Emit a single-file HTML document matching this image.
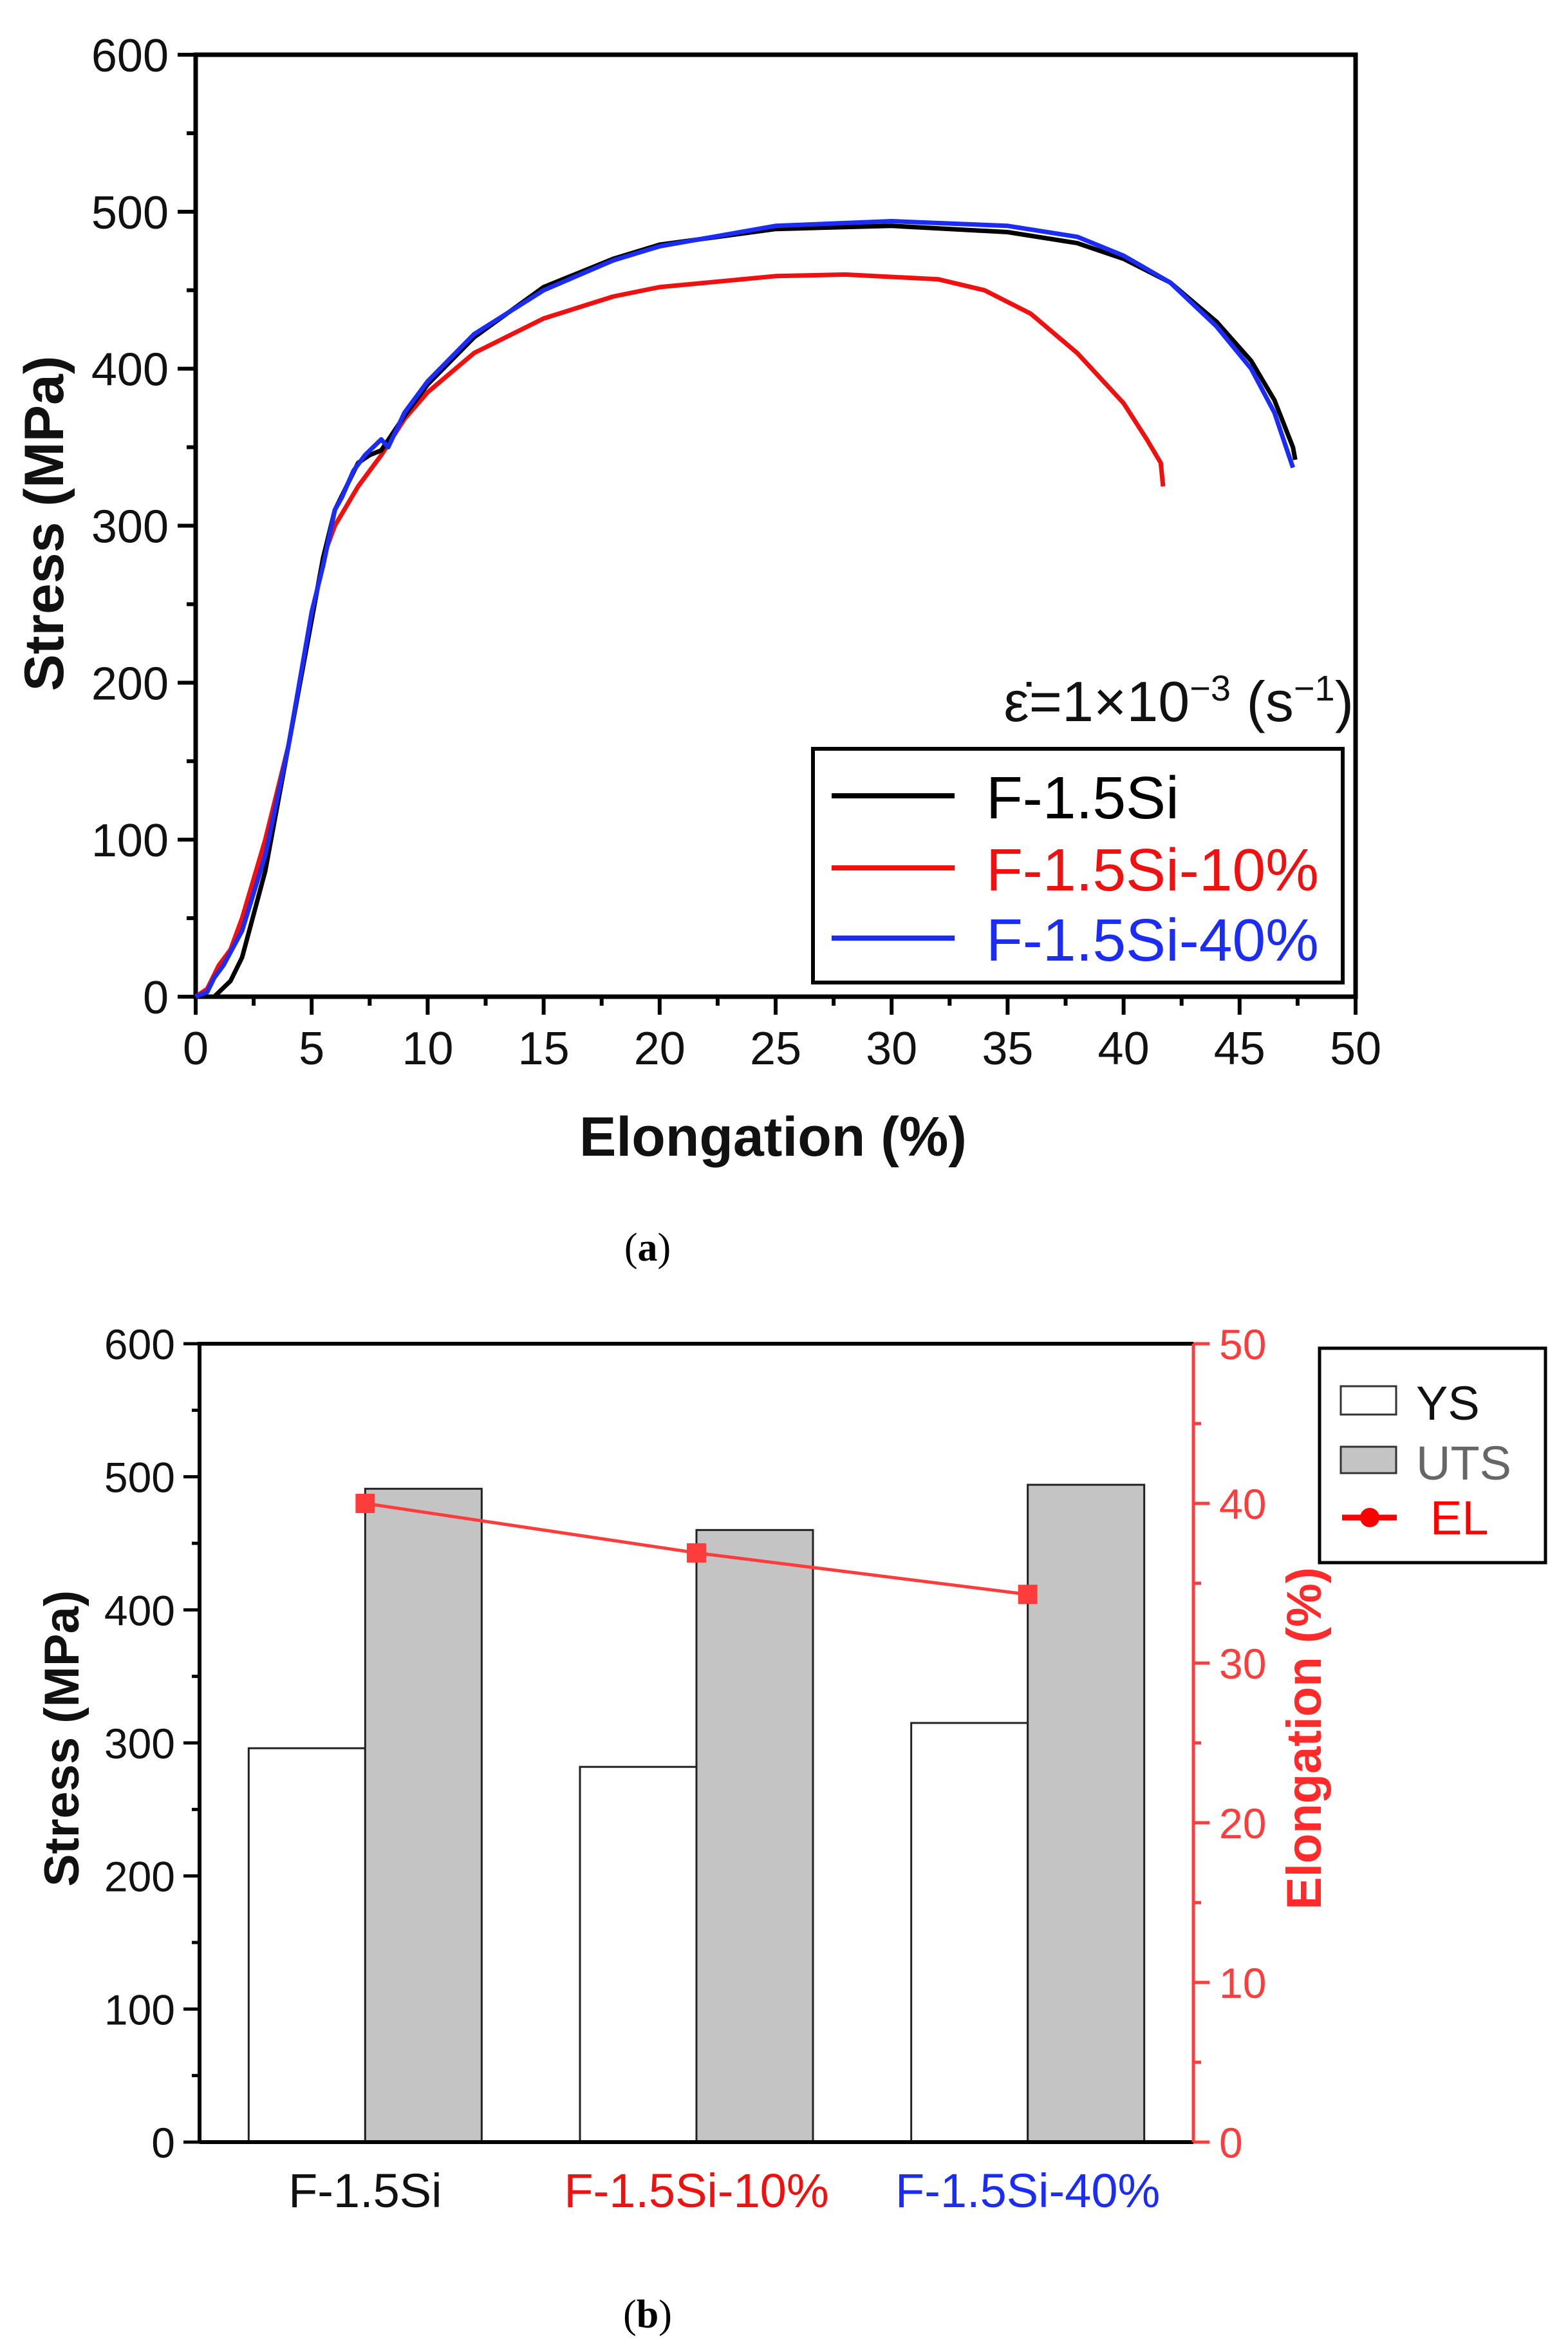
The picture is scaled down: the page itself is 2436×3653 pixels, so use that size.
<!DOCTYPE html>
<html><head><meta charset="utf-8"><style>
html,body{margin:0;padding:0;background:#fff;}
svg{display:block;font-family:"Liberation Sans",sans-serif;}
</style></head><body>
<svg id="fig" width="2436" height="3653" viewBox="0 0 2436 3653" xmlns="http://www.w3.org/2000/svg">
<g id="ga"></g>
<g id="gb"></g>
</svg>
<script>
// ---- Chart (a) data ----
const blackX=[0,0.8,1.5,2,3,4,5,5.5,6,6.5,7,7.5,8,9,10,12,15,18,20,25,30,35,38,40,42,44,45.5,46.5,47.3,47.4];
const blackY=[0,0,10,25,80,160,240,280,310,325,340,345,348,370,390,420,452,470,479,489,491,487,480,470,455,430,405,380,350,342];
const redX=[0,0.5,1,1.5,2,3,4,5,5.5,6,7,8,9,10,12,15,18,20,25,28,32,34,36,38,40,41,41.6,41.7];
const redY=[0,5,20,30,50,100,160,240,280,300,325,345,368,385,410,432,446,452,459,460,457,450,435,410,378,355,340,325];
const blueX=[0,0.5,0.8,1.2,2,3,4,5,5.5,6,6.3,6.8,7.3,8,8.3,9,10,12,15,18,20,25,30,35,38,40,42,44,45.5,46.5,47.3];
const blueY=[0,3,12,20,42,90,160,245,275,310,318,335,345,355,350,372,392,422,450,469,478,491,494,491,484,472,455,427,400,372,337];
const aXTicks=[0,5,10,15,20,25,30,35,40,45,50];
const aYTicks=[0,100,200,300,400,500,600];
// ---- Chart (b) data ----
const categories=["F-1.5Si","F-1.5Si-10%","F-1.5Si-40%"];
const ysValues=[296,282,315];
const utsValues=[491,460,494];
const elValues=[40,36.9,34.3];
const bYTicks=[0,100,200,300,400,500,600];
const bY2Ticks=[0,10,20,30,40,50];

const NS="http://www.w3.org/2000/svg";
function mk(parent,tag,attrs,text){const e=document.createElementNS(NS,tag);for(const k in attrs)e.setAttribute(k,attrs[k]);if(text!==undefined)e.textContent=text;parent.appendChild(e);return e;}

// ===== Chart A =====
const ga=document.getElementById('ga');
const aL=304,aR=2106,aT=85,aB=1548;
const ax=v=>aL+v/50*(aR-aL);
const ay=v=>aB-v/600*(aB-aT);
let e;
e=mk(ga,'rect',{x:aL,y:aT,width:aR-aL,height:aB-aT,fill:'none',stroke:'#000','stroke-width':7});


for(let v=0;v<=600;v+=50){const maj=v%100===0;
 e=mk(ga,'line',{x1:aL,x2:aL-(maj?28:14),y1:ay(v),y2:ay(v),stroke:'#000','stroke-width':6});
 
 }
aYTicks.forEach(v=>{e=mk(ga,'text',{x:aL-42,y:ay(v)+26,'text-anchor':'end','font-size':72,fill:'#111'},String(v));
 
 });
for(let v=0;v<=50;v+=2.5){const maj=v%5===0;
 e=mk(ga,'line',{x1:ax(v),x2:ax(v),y1:aB,y2:aB+(maj?28:14),stroke:'#000','stroke-width':6});
 
 }
aXTicks.forEach(v=>{e=mk(ga,'text',{x:ax(v),y:aB+105,'text-anchor':'middle','font-size':72,fill:'#111'},String(v));
 
 });
e=mk(ga,'text',{x:0,y:0,transform:'translate(98,813) rotate(-90)','text-anchor':'middle','font-size':86,'font-weight':'bold',fill:'#111'},'Stress (MPa)');


e=mk(ga,'text',{x:1201,y:1795,'text-anchor':'middle','font-size':86,'font-weight':'bold',fill:'#111'},'Elongation (%)');


function curve(xs,ys,col,name){const d=xs.map((x,i)=>(i?'L':'M')+ax(x).toFixed(1)+','+ay(ys[i]).toFixed(1)).join(' ');
 const p=mk(ga,'path',{d:d,fill:'none',stroke:col,'stroke-width':7,'stroke-linejoin':'round'});
 
 }
curve(redX,redY,'#f01010','curve-f-1.5si-10');
curve(blackX,blackY,'#000','curve-f-1.5si');
curve(blueX,blueY,'#1a2cf5','curve-f-1.5si-40');
e=mk(ga,'text',{x:2103,y:1120,'text-anchor':'end','font-size':88,fill:'#111'});
e.innerHTML='ε̇=1×10<tspan dy="-32" font-size="56">−3</tspan><tspan dy="32"> (s</tspan><tspan dy="-32" font-size="56">−1</tspan><tspan dy="32">)</tspan>';


const lg=mk(ga,'g',{});


mk(lg,'rect',{x:1263,y:1163,width:823,height:363,fill:'#fff',stroke:'#000','stroke-width':6});
[['F-1.5Si','#000',1236],['F-1.5Si-10%','#f01010',1348],['F-1.5Si-40%','#1a2cf5',1457]].forEach(r=>{
 const g=mk(lg,'g',{});
 
 
 mk(g,'line',{x1:1292,x2:1483,y1:r[2],y2:r[2],stroke:r[1],'stroke-width':8});
 mk(g,'text',{x:1532,y:r[2]+35,'font-size':93,fill:r[1]},r[0]);});
e=mk(ga,'text',{x:1006,y:1958,'text-anchor':'middle','font-size':62,'font-family':'Liberation Serif, serif',fill:'#000'});
e.innerHTML='(<tspan font-weight="bold">a</tspan>)';



// ===== Chart B =====
const gb=document.getElementById('gb');
const bL=310,bR=1854,bT=2087,bB=3327;
const by=v=>bB-v/600*(bB-bT);
const by2=v=>bB-v/50*(bB-bT);
const band=(bR-bL)/categories.length;
const bc=i=>bL+band*(i+0.5);
const bw=181;
categories.forEach((c,i)=>{
 e=mk(gb,'rect',{x:bc(i)-bw,y:by(ysValues[i]),width:bw,height:bB-by(ysValues[i]),fill:'#fff',stroke:'#222','stroke-width':3});
 
 
 e=mk(gb,'rect',{x:bc(i),y:by(utsValues[i]),width:bw,height:bB-by(utsValues[i]),fill:'#c4c4c4',stroke:'#222','stroke-width':3});
 
 
});
e=mk(gb,'path',{d:'M'+bL+','+bB+' V'+bT+' H'+bR,fill:'none',stroke:'#000','stroke-width':6});


e=mk(gb,'line',{x1:bL,x2:bR,y1:bB,y2:bB,stroke:'#000','stroke-width':6});


e=mk(gb,'line',{x1:bR,x2:bR,y1:bT,y2:bB,stroke:'#ff3c3c','stroke-width':5});


for(let v=0;v<=600;v+=50){const maj=v%100===0;
 e=mk(gb,'line',{x1:bL,x2:bL-(maj?25:12),y1:by(v),y2:by(v),stroke:'#000','stroke-width':5});
 
 }
bYTicks.forEach(v=>{e=mk(gb,'text',{x:bL-38,y:by(v)+24,'text-anchor':'end','font-size':66,fill:'#111'},String(v));
 
 });
for(let v=0;v<=50;v+=5){const maj=v%10===0;
 e=mk(gb,'line',{x1:bR,x2:bR+(maj?25:12),y1:by2(v),y2:by2(v),stroke:'#ff3c3c','stroke-width':5});
 
 }
bY2Ticks.forEach(v=>{e=mk(gb,'text',{x:bR+40,y:by2(v)+24,'font-size':66,fill:'#ff3c3c'},String(v));
 
 });
const catCols=['#111','#f01010','#1a2cf5'];
categories.forEach((c,i)=>{e=mk(gb,'text',{x:bc(i),y:3428,'text-anchor':'middle','font-size':74,fill:catCols[i]},c);
 
 });
e=mk(gb,'polyline',{points:elValues.map((v,i)=>bc(i)+','+by2(v)).join(' '),fill:'none',stroke:'#ff3c3c','stroke-width':5});


elValues.forEach((v,i)=>{e=mk(gb,'rect',{x:bc(i)-15,y:by2(v)-15,width:30,height:30,fill:'#ff3c3c'});
 
 });
e=mk(gb,'text',{x:0,y:0,transform:'translate(122,2700) rotate(-90)','text-anchor':'middle','font-size':76,'font-weight':'bold',fill:'#111'},'Stress (MPa)');


e=mk(gb,'text',{x:0,y:0,transform:'translate(2052,2700) rotate(-90)','text-anchor':'middle','font-size':76,'font-weight':'bold',fill:'#ff2a2a'},'Elongation (%)');


const lb=mk(gb,'g',{});


mk(lb,'rect',{x:2050,y:2094,width:351,height:333,fill:'#fff',stroke:'#000','stroke-width':5});
let g=mk(lb,'g',{});


mk(g,'rect',{x:2083,y:2153,width:86,height:44,fill:'#fff',stroke:'#333','stroke-width':3});
mk(g,'text',{x:2200,y:2205,'font-size':74,fill:'#111'},'YS');
g=mk(lb,'g',{});


mk(g,'rect',{x:2083,y:2247,width:86,height:41,fill:'#c4c4c4',stroke:'#333','stroke-width':3});
mk(g,'text',{x:2200,y:2298,'font-size':74,fill:'#666'},'UTS');
g=mk(lb,'g',{});


mk(g,'line',{x1:2085,x2:2170,y1:2357,y2:2357,stroke:'#ff0000','stroke-width':9});
mk(g,'circle',{cx:2128,cy:2357,r:15,fill:'#ff0000'});
mk(g,'text',{x:2222,y:2383,'font-size':74,fill:'#ff0000'},'EL');
e=mk(gb,'text',{x:1006,y:3615,'text-anchor':'middle','font-size':62,'font-family':'Liberation Serif, serif',fill:'#000'});
e.innerHTML='(<tspan font-weight="bold">b</tspan>)';


</script>
</body></html>
